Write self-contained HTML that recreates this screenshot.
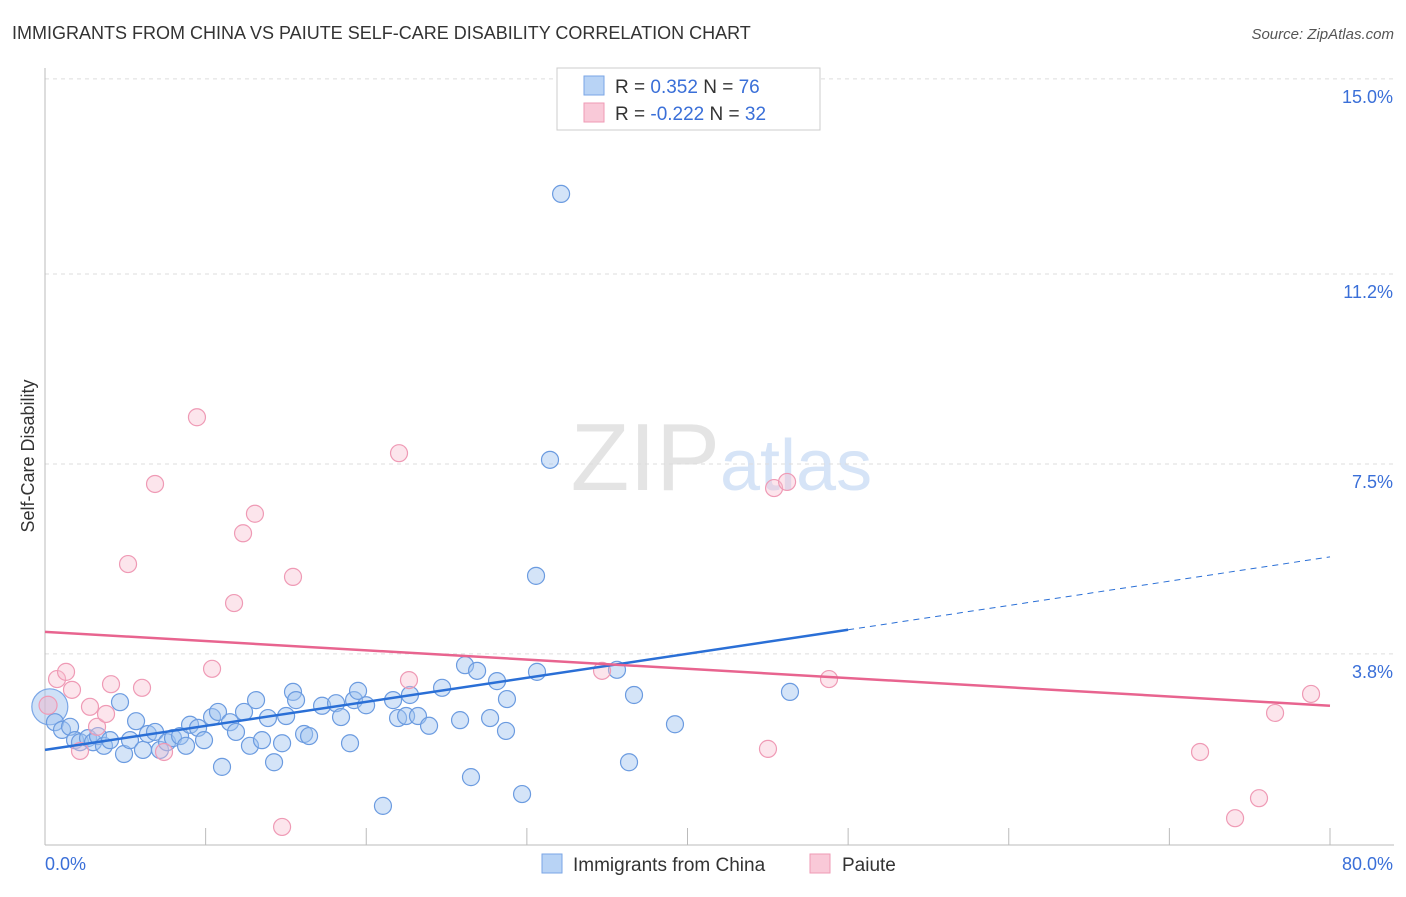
<!DOCTYPE html>
<html><head><meta charset="utf-8"><style>
body{margin:0;background:#fff;font-family:"Liberation Sans",sans-serif}
svg text{font-family:"Liberation Sans",sans-serif}
</style></head><body>
<svg id="c" width="1406" height="892">
<text x="12" y="39" font-size="18" fill="#333">IMMIGRANTS FROM CHINA VS PAIUTE SELF-CARE DISABILITY CORRELATION CHART</text>
<text x="1394" y="39" font-size="15" fill="#555" text-anchor="end" font-style="italic">Source: ZipAtlas.com</text>
<text x="720" y="490" font-size="96" fill="#e4e4e4" text-anchor="end" font-family="Liberation Serif">ZIP</text>
<text x="720" y="490" font-size="72" fill="#d6e4f7">atlas</text>
<g id="grid"></g><g id="pts"></g><g id="lines"></g>
<text transform="translate(34,456) rotate(-90)" font-size="18" fill="#333" text-anchor="middle">Self-Care Disability</text>
<text x="45" y="870" font-size="18" fill="#3a6fd8">0.0%</text>
<text x="1393" y="870" font-size="18" fill="#3a6fd8" text-anchor="end">80.0%</text>
<g>
<rect x="557" y="68" width="263" height="62" fill="#fff" stroke="#ccc"/>
<rect x="584" y="76" width="20" height="19" fill="#b8d3f5" stroke="#7aa6e6"/>
<rect x="584" y="103" width="20" height="19" fill="#f9c9d8" stroke="#ef9ab5"/>
<text x="615" y="93" font-size="19" fill="#333">R =  <tspan fill="#3a6fd8">0.352</tspan>   N = <tspan fill="#3a6fd8">76</tspan></text>
<text x="615" y="120" font-size="19" fill="#333">R = <tspan fill="#3a6fd8">-0.222</tspan>   N = <tspan fill="#3a6fd8">32</tspan></text>
</g>
<g>
<rect x="542" y="854" width="20" height="19" fill="#b8d3f5" stroke="#7aa6e6"/>
<text x="573" y="871" font-size="19" fill="#333">Immigrants from China</text>
<rect x="810" y="854" width="20" height="19" fill="#f9c9d8" stroke="#ef9ab5"/>
<text x="842" y="871" font-size="19" fill="#333">Paiute</text>
</g>
</svg>
<script>
const yTicks=[3.8,7.5,11.2,15.0];
const yTickLabels=["3.8%","7.5%","11.2%","15.0%"];
const xTicks=[10,20,30,40,50,60,70,80];
const chinaX=[0.62,1.06,1.56,1.87,2.18,2.68,2.99,3.30,3.67,4.05,4.67,4.92,5.29,5.67,6.10,6.41,6.85,7.16,7.60,7.97,8.41,8.78,9.03,9.53,9.90,10.40,10.77,11.02,11.52,11.89,12.39,12.76,13.14,13.51,13.88,14.26,14.76,15.01,15.44,15.63,16.13,16.44,17.25,18.12,18.43,18.99,19.24,19.49,19.99,21.04,21.67,21.98,22.48,22.72,23.22,23.91,24.72,25.84,26.15,26.52,26.90,27.71,28.14,28.76,28.70,29.70,30.63,30.57,31.44,32.13,35.61,36.36,36.67,39.22,46.38];
const chinaY=[2.47,2.32,2.38,2.12,2.08,2.16,2.08,2.20,2.01,2.12,2.86,1.85,2.12,2.49,1.93,2.24,2.28,1.93,2.08,2.16,2.20,2.01,2.42,2.36,2.12,2.57,2.67,1.60,2.47,2.28,2.67,2.01,2.90,2.12,2.55,1.69,2.06,2.59,3.06,2.90,2.24,2.20,2.79,2.84,2.57,2.06,2.90,3.08,2.80,0.84,2.90,2.55,2.59,3.00,2.59,2.40,3.14,2.51,3.58,1.40,3.47,2.55,3.27,2.92,2.30,1.07,3.45,5.32,7.58,12.76,3.49,1.69,3.00,2.43,3.06];
const paiuteX=[0.75,1.31,1.68,2.18,2.80,3.24,3.80,4.11,5.17,6.04,6.85,7.41,9.46,10.40,11.77,12.33,13.07,15.44,14.76,22.04,22.66,34.68,45.01,45.39,46.20,48.81,71.91,74.09,75.58,76.58,78.82];
const paiuteY=[3.31,3.45,3.10,1.91,2.77,2.38,2.63,3.21,5.55,3.14,7.11,1.89,8.41,3.51,4.79,6.15,6.53,5.30,0.43,7.71,3.29,3.47,1.95,7.03,7.15,3.31,1.89,0.60,0.99,2.65,3.02];
const bigX=[0.3],bigY=[2.77],pinkBigX=[0.19],pinkBigY=[2.80];
const chinaTrend=[[0,1.93],[50,4.27],[80,5.69]];
const paiuteTrend=[[0,4.23],[80,2.79]];
const X=v=>45+v*1285/80, Y=v=>849-v*51.34;
const NS="http://www.w3.org/2000/svg";
function mk(p,t,a){const e=document.createElementNS(NS,t);for(const k in a)e.setAttribute(k,a[k]);p.appendChild(e);return e;}
const g=document.getElementById('grid');
yTicks.forEach((v,i)=>{
 const l=mk(g,'line',{x1:45,x2:1394,y1:Y(v),y2:Y(v),stroke:'#ddd','stroke-dasharray':'4,4'});
 
 
 const t=mk(g,'text',{x:1393,y:Y(v)+24,'font-size':18,fill:'#3a6fd8','text-anchor':'end'});t.textContent=yTickLabels[i];
 
 
});
mk(g,'line',{x1:45,x2:45,y1:68,y2:845,stroke:'#bbb'});
mk(g,'line',{x1:45,x2:1394,y1:845,y2:845,stroke:'#bbb'});
xTicks.forEach(v=>{const l=mk(g,'line',{x1:X(v),x2:X(v),y1:828,y2:845,stroke:'#bbb'});
 
 });
const p=document.getElementById('pts');
function dots(xs,ys,r,f,s,name){xs.forEach((x,i)=>{const c=mk(p,'circle',{cx:X(x),cy:Y(ys[i]),r:r,fill:f,stroke:s,'stroke-width':1.2});
 
 });}
dots(bigX,bigY,18,'rgba(160,195,240,0.5)','#7aa6e6','china-point');
dots(chinaX,chinaY,8.5,'rgba(160,195,240,0.45)','#6b9be0','china-point');
dots(pinkBigX,pinkBigY,9,'rgba(245,180,200,0.45)','#ef9ab5','paiute-point');
dots(paiuteX,paiuteY,8.5,'rgba(248,190,208,0.4)','#ef9ab5','paiute-point');
const L=document.getElementById('lines');
let a=mk(L,'line',{x1:X(chinaTrend[0][0]),y1:Y(chinaTrend[0][1]),x2:X(chinaTrend[1][0]),y2:Y(chinaTrend[1][1]),stroke:'#2a6fd6','stroke-width':2.5});


a=mk(L,'line',{x1:X(chinaTrend[1][0]),y1:Y(chinaTrend[1][1]),x2:X(chinaTrend[2][0]),y2:Y(chinaTrend[2][1]),stroke:'#2a6fd6','stroke-width':1,'stroke-dasharray':'6,5'});


a=mk(L,'line',{x1:X(paiuteTrend[0][0]),y1:Y(paiuteTrend[0][1]),x2:X(paiuteTrend[1][0]),y2:Y(paiuteTrend[1][1]),stroke:'#e8648f','stroke-width':2.5});


</script>
</body></html>
